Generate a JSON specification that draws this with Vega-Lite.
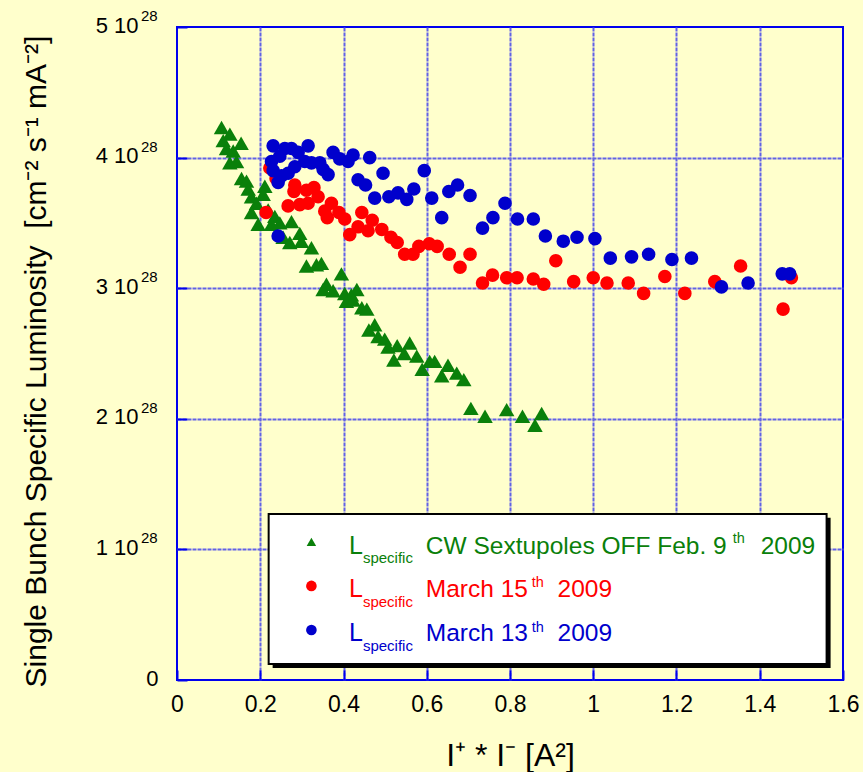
{
  "$schema": "https://vega.github.io/schema/vega-lite/v6.json",
  "width": 666,
  "height": 653,
  "autosize": {"type": "none"},
  "padding": {"left": 177, "top": 27, "right": 20, "bottom": 92},
  "background": "#ffffcc",
  "config": {
    "view": {"stroke": "#0000ee", "strokeWidth": 2, "fill": "#ffffcc"},
    "font": "Liberation Sans",
    "text": {"font": "Liberation Sans"},
    "axis": {
      "labelFont": "Liberation Sans",
      "titleFont": "Liberation Sans",
      "titleFontWeight": "normal",
      "labelColor": "#000000",
      "titleColor": "#000000",
      "domain": false,
      "tickColor": "#0000ee",
      "tickWidth": 2,
      "gridWidth": 2,
      "gridDash": [4, 1]
    }
  },
  "datasets": {
    "pts": [
      {"s":"Feb9","x":0.107,"L":4.23e28},{"s":"Feb9","x":0.127,"L":4.18e28},{"s":"Feb9","x":0.154,"L":4.11e28},{"s":"Feb9","x":0.111,"L":4.13e28},{"s":"Feb9","x":0.135,"L":4.05e28},{"s":"Feb9","x":0.119,"L":4.07e28},{"s":"Feb9","x":0.127,"L":3.96e28},{"s":"Feb9","x":0.143,"L":3.97e28},{"s":"Feb9","x":0.155,"L":3.84e28},{"s":"Feb9","x":0.167,"L":3.82e28},{"s":"Feb9","x":0.171,"L":3.76e28},{"s":"Feb9","x":0.179,"L":3.70e28},{"s":"Feb9","x":0.191,"L":3.65e28},{"s":"Feb9","x":0.211,"L":3.78e28},{"s":"Feb9","x":0.207,"L":3.72e28},{"s":"Feb9","x":0.179,"L":3.58e28},{"s":"Feb9","x":0.195,"L":3.49e28},{"s":"Feb9","x":0.219,"L":3.60e28},{"s":"Feb9","x":0.235,"L":3.55e28},{"s":"Feb9","x":0.227,"L":3.49e28},{"s":"Feb9","x":0.247,"L":3.50e28},{"s":"Feb9","x":0.275,"L":3.51e28},{"s":"Feb9","x":0.255,"L":3.39e28},{"s":"Feb9","x":0.271,"L":3.35e28},{"s":"Feb9","x":0.295,"L":3.42e28},{"s":"Feb9","x":0.299,"L":3.36e28},{"s":"Feb9","x":0.323,"L":3.31e28},{"s":"Feb9","x":0.311,"L":3.17e28},{"s":"Feb9","x":0.335,"L":3.18e28},{"s":"Feb9","x":0.347,"L":3.19e28},{"s":"Feb9","x":0.395,"L":3.11e28},{"s":"Feb9","x":0.359,"L":3.03e28},{"s":"Feb9","x":0.375,"L":2.98e28},{"s":"Feb9","x":0.351,"L":2.99e28},{"s":"Feb9","x":0.403,"L":2.96e28},{"s":"Feb9","x":0.419,"L":2.95e28},{"s":"Feb9","x":0.432,"L":2.99e28},{"s":"Feb9","x":0.407,"L":2.90e28},{"s":"Feb9","x":0.423,"L":2.91e28},{"s":"Feb9","x":0.444,"L":2.85e28},{"s":"Feb9","x":0.456,"L":2.84e28},{"s":"Feb9","x":0.475,"L":2.72e28},{"s":"Feb9","x":0.461,"L":2.68e28},{"s":"Feb9","x":0.483,"L":2.63e28},{"s":"Feb9","x":0.499,"L":2.61e28},{"s":"Feb9","x":0.507,"L":2.55e28},{"s":"Feb9","x":0.529,"L":2.56e28},{"s":"Feb9","x":0.559,"L":2.58e28},{"s":"Feb9","x":0.546,"L":2.50e28},{"s":"Feb9","x":0.521,"L":2.45e28},{"s":"Feb9","x":0.576,"L":2.48e28},{"s":"Feb9","x":0.607,"L":2.44e28},{"s":"Feb9","x":0.619,"L":2.44e28},{"s":"Feb9","x":0.589,"L":2.38e28},{"s":"Feb9","x":0.651,"L":2.41e28},{"s":"Feb9","x":0.636,"L":2.33e28},{"s":"Feb9","x":0.672,"L":2.35e28},{"s":"Feb9","x":0.689,"L":2.30e28},{"s":"Feb9","x":0.706,"L":2.08e28},{"s":"Feb9","x":0.740,"L":2.02e28},{"s":"Feb9","x":0.792,"L":2.07e28},{"s":"Feb9","x":0.830,"L":2.02e28},{"s":"Feb9","x":0.860,"L":1.95e28},{"s":"Feb9","x":0.876,"L":2.04e28},
      {"s":"Mar15","x":0.223,"L":3.92e28},{"s":"Mar15","x":0.238,"L":3.84e28},{"s":"Mar15","x":0.283,"L":3.79e28},{"s":"Mar15","x":0.281,"L":3.74e28},{"s":"Mar15","x":0.311,"L":3.75e28},{"s":"Mar15","x":0.329,"L":3.77e28},{"s":"Mar15","x":0.339,"L":3.70e28},{"s":"Mar15","x":0.267,"L":3.63e28},{"s":"Mar15","x":0.295,"L":3.64e28},{"s":"Mar15","x":0.315,"L":3.65e28},{"s":"Mar15","x":0.355,"L":3.59e28},{"s":"Mar15","x":0.371,"L":3.65e28},{"s":"Mar15","x":0.361,"L":3.54e28},{"s":"Mar15","x":0.389,"L":3.58e28},{"s":"Mar15","x":0.403,"L":3.53e28},{"s":"Mar15","x":0.444,"L":3.58e28},{"s":"Mar15","x":0.469,"L":3.52e28},{"s":"Mar15","x":0.415,"L":3.41e28},{"s":"Mar15","x":0.435,"L":3.47e28},{"s":"Mar15","x":0.459,"L":3.44e28},{"s":"Mar15","x":0.492,"L":3.45e28},{"s":"Mar15","x":0.514,"L":3.39e28},{"s":"Mar15","x":0.529,"L":3.35e28},{"s":"Mar15","x":0.214,"L":3.58e28},{"s":"Mar15","x":0.547,"L":3.26e28},{"s":"Mar15","x":0.567,"L":3.26e28},{"s":"Mar15","x":0.581,"L":3.32e28},{"s":"Mar15","x":0.606,"L":3.34e28},{"s":"Mar15","x":0.625,"L":3.32e28},{"s":"Mar15","x":0.654,"L":3.26e28},{"s":"Mar15","x":0.680,"L":3.16e28},{"s":"Mar15","x":0.704,"L":3.26e28},{"s":"Mar15","x":0.734,"L":3.04e28},{"s":"Mar15","x":0.758,"L":3.10e28},{"s":"Mar15","x":0.792,"L":3.08e28},{"s":"Mar15","x":0.817,"L":3.08e28},{"s":"Mar15","x":0.856,"L":3.07e28},{"s":"Mar15","x":0.881,"L":3.03e28},{"s":"Mar15","x":0.910,"L":3.21e28},{"s":"Mar15","x":0.953,"L":3.05e28},{"s":"Mar15","x":1.000,"L":3.08e28},{"s":"Mar15","x":1.033,"L":3.04e28},{"s":"Mar15","x":1.084,"L":3.04e28},{"s":"Mar15","x":1.121,"L":2.96e28},{"s":"Mar15","x":1.172,"L":3.09e28},{"s":"Mar15","x":1.220,"L":2.96e28},{"s":"Mar15","x":1.292,"L":3.05e28},{"s":"Mar15","x":1.354,"L":3.17e28},{"s":"Mar15","x":1.476,"L":3.08e28},{"s":"Mar15","x":1.456,"L":2.84e28},
      {"s":"Mar13","x":0.231,"L":4.09e28},{"s":"Mar13","x":0.259,"L":4.07e28},{"s":"Mar13","x":0.275,"L":4.07e28},{"s":"Mar13","x":0.315,"L":4.09e28},{"s":"Mar13","x":0.227,"L":3.97e28},{"s":"Mar13","x":0.247,"L":4.01e28},{"s":"Mar13","x":0.291,"L":4.04e28},{"s":"Mar13","x":0.231,"L":3.90e28},{"s":"Mar13","x":0.251,"L":3.86e28},{"s":"Mar13","x":0.243,"L":3.81e28},{"s":"Mar13","x":0.267,"L":3.88e28},{"s":"Mar13","x":0.283,"L":3.93e28},{"s":"Mar13","x":0.307,"L":3.97e28},{"s":"Mar13","x":0.323,"L":3.96e28},{"s":"Mar13","x":0.343,"L":3.96e28},{"s":"Mar13","x":0.351,"L":3.91e28},{"s":"Mar13","x":0.363,"L":3.87e28},{"s":"Mar13","x":0.375,"L":4.04e28},{"s":"Mar13","x":0.391,"L":3.99e28},{"s":"Mar13","x":0.411,"L":3.97e28},{"s":"Mar13","x":0.423,"L":4.02e28},{"s":"Mar13","x":0.463,"L":4.00e28},{"s":"Mar13","x":0.495,"L":3.88e28},{"s":"Mar13","x":0.435,"L":3.83e28},{"s":"Mar13","x":0.453,"L":3.79e28},{"s":"Mar13","x":0.475,"L":3.69e28},{"s":"Mar13","x":0.509,"L":3.70e28},{"s":"Mar13","x":0.531,"L":3.73e28},{"s":"Mar13","x":0.552,"L":3.68e28},{"s":"Mar13","x":0.569,"L":3.76e28},{"s":"Mar13","x":0.594,"L":3.90e28},{"s":"Mar13","x":0.612,"L":3.69e28},{"s":"Mar13","x":0.636,"L":3.54e28},{"s":"Mar13","x":0.653,"L":3.74e28},{"s":"Mar13","x":0.674,"L":3.79e28},{"s":"Mar13","x":0.704,"L":3.71e28},{"s":"Mar13","x":0.734,"L":3.46e28},{"s":"Mar13","x":0.759,"L":3.54e28},{"s":"Mar13","x":0.788,"L":3.65e28},{"s":"Mar13","x":0.818,"L":3.53e28},{"s":"Mar13","x":0.856,"L":3.53e28},{"s":"Mar13","x":0.885,"L":3.40e28},{"s":"Mar13","x":0.928,"L":3.36e28},{"s":"Mar13","x":0.961,"L":3.39e28},{"s":"Mar13","x":1.004,"L":3.38e28},{"s":"Mar13","x":1.041,"L":3.23e28},{"s":"Mar13","x":1.092,"L":3.24e28},{"s":"Mar13","x":1.133,"L":3.26e28},{"s":"Mar13","x":1.189,"L":3.22e28},{"s":"Mar13","x":1.236,"L":3.23e28},{"s":"Mar13","x":1.308,"L":3.01e28},{"s":"Mar13","x":1.372,"L":3.04e28},{"s":"Mar13","x":1.454,"L":3.11e28},{"s":"Mar13","x":1.472,"L":3.11e28},{"s":"Mar13","x":0.243,"L":3.40e28}
    ],
    "yticks": [{"v":1e28},{"v":2e28},{"v":3e28},{"v":4e28},{"v":5e28}],
    "one": [{}]
  },
  "layer": [
    {
      "data": {"name": "pts"},
      "transform": [{"filter": "datum.s == 'Feb9'"}],
      "mark": {"type": "point", "shape": "triangle-up", "filled": true, "opacity": 1, "size": 240, "color": "#0a800a"},
      "encoding": {
        "x": {
          "field": "x", "type": "quantitative",
          "scale": {"domain": [0, 1.6], "nice": false, "zero": false},
          "axis": {
            "title": "I⁺ * I⁻ [A²]",
            "titleFontSize": 32,
            "titlePadding": 24,
            "values": [0, 0.2, 0.4, 0.6, 0.8, 1, 1.2, 1.4, 1.6],
            "format": "~g",
            "labelFontSize": 23,
            "labelPadding": 23,
            "tickSize": -10,
            "labelFlush": false,
            "grid": true,
            "gridColor": {"condition": {"test": "datum.value <= 0 || datum.value >= 1.6", "value": "transparent"}, "value": "#6262e6"}
          }
        },
        "y": {
          "field": "L", "type": "quantitative",
          "scale": {"domain": [0, 5e28], "nice": false},
          "axis": {
            "title": "Single Bunch Specific Luminosity\u00a0\u00a0[cm⁻² s⁻¹ mA⁻²]",
            "titleFontSize": 30,
            "titlePadding": 44,
            "titleY": 334,
            "values": [0, 1e28, 2e28, 3e28, 4e28, 5e28],
            "labelExpr": "datum.value == 0 ? '0' : round(datum.value / 1e28) + ' 10'",
            "labelFontSize": 22,
            "labelOffset": -2,
            "labelPadding": {"condition": {"test": "datum.value == 0", "value": 29}, "value": 49},
            "tickSize": -10,
            "labelFlush": false,
            "grid": true,
            "gridColor": {"condition": {"test": "datum.value <= 0 || datum.value >= 5e28", "value": "transparent"}, "value": "#6262e6"}
          }
        }
      }
    },
    {
      "data": {"name": "pts"},
      "transform": [{"filter": "datum.s == 'Mar15'"}],
      "mark": {"type": "point", "shape": "circle", "filled": true, "opacity": 1, "size": 185, "color": "#ff0000"},
      "encoding": {"x": {"field": "x", "type": "quantitative"}, "y": {"field": "L", "type": "quantitative"}}
    },
    {
      "data": {"name": "pts"},
      "transform": [{"filter": "datum.s == 'Mar13'"}],
      "mark": {"type": "point", "shape": "circle", "filled": true, "opacity": 1, "size": 185, "color": "#0000cc"},
      "encoding": {"x": {"field": "x", "type": "quantitative"}, "y": {"field": "L", "type": "quantitative"}}
    },
    {
      "data": {"name": "yticks"},
      "mark": {"type": "text", "text": "28", "align": "left", "baseline": "alphabetic", "dx": -36, "dy": -6, "fontSize": 15, "color": "#000000"},
      "encoding": {"x": {"datum": 0, "type": "quantitative"}, "y": {"field": "v", "type": "quantitative"}}
    },
    {
      "data": {"name": "one"},
      "mark": {"type": "rect", "fill": "#000000"},
      "encoding": {"x": {"datum": 0.2298}, "x2": {"datum": 1.5702}, "y": {"datum": 1.2414e28}, "y2": {"datum": 0.092e28}}
    },
    {
      "data": {"name": "one"},
      "mark": {"type": "rect", "fill": "#ffffff", "stroke": "#000000", "strokeWidth": 2},
      "encoding": {"x": {"datum": 0.2202}, "x2": {"datum": 1.5606}, "y": {"datum": 1.272e28}, "y2": {"datum": 0.1226e28}}
    },
    {"data": {"name": "one"}, "mark": {"type": "point", "shape": "triangle-up", "filled": true, "size": 90, "color": "#0a800a", "opacity": 1}, "encoding": {"x": {"datum": 0.3229}, "y": {"datum": 1.0575e28}}},
    {"data": {"name": "one"}, "mark": {"type": "point", "shape": "circle", "filled": true, "size": 113, "color": "#ff0000", "opacity": 1}, "encoding": {"x": {"datum": 0.3229}, "y": {"datum": 0.7203e28}}},
    {"data": {"name": "one"}, "mark": {"type": "point", "shape": "circle", "filled": true, "size": 113, "color": "#0000cc", "opacity": 1}, "encoding": {"x": {"datum": 0.3229}, "y": {"datum": 0.3831e28}}},

    {"data": {"name": "one"}, "mark": {"type": "text", "text": "L", "align": "left", "baseline": "alphabetic", "fontSize": 25, "color": "#0a800a"}, "encoding": {"x": {"datum": 0.4130}, "y": {"datum": 0.9655e28}}},
    {"data": {"name": "one"}, "mark": {"type": "text", "text": "specific", "align": "left", "baseline": "alphabetic", "fontSize": 15, "color": "#0a800a"}, "encoding": {"x": {"datum": 0.4466}, "y": {"datum": 0.8966e28}}},
    {"data": {"name": "one"}, "mark": {"type": "text", "text": "CW Sextupoles OFF Feb. 9", "align": "left", "baseline": "alphabetic", "fontSize": 24.5, "color": "#0a800a"}, "encoding": {"x": {"datum": 0.5978}, "y": {"datum": 0.9655e28}}},
    {"data": {"name": "one"}, "mark": {"type": "text", "text": "th", "align": "left", "baseline": "alphabetic", "fontSize": 14.5, "color": "#0a800a"}, "encoding": {"x": {"datum": 1.3349}, "y": {"datum": 1.0475e28}}},
    {"data": {"name": "one"}, "mark": {"type": "text", "text": "2009", "align": "left", "baseline": "alphabetic", "fontSize": 24.5, "color": "#0a800a"}, "encoding": {"x": {"datum": 1.4022}, "y": {"datum": 0.9655e28}}},

    {"data": {"name": "one"}, "mark": {"type": "text", "text": "L", "align": "left", "baseline": "alphabetic", "fontSize": 25, "color": "#ff0000"}, "encoding": {"x": {"datum": 0.4130}, "y": {"datum": 0.6360e28}}},
    {"data": {"name": "one"}, "mark": {"type": "text", "text": "specific", "align": "left", "baseline": "alphabetic", "fontSize": 15, "color": "#ff0000"}, "encoding": {"x": {"datum": 0.4466}, "y": {"datum": 0.5594e28}}},
    {"data": {"name": "one"}, "mark": {"type": "text", "text": "March 15", "align": "left", "baseline": "alphabetic", "fontSize": 24.5, "color": "#ff0000"}, "encoding": {"x": {"datum": 0.5978}, "y": {"datum": 0.6360e28}}},
    {"data": {"name": "one"}, "mark": {"type": "text", "text": "th", "align": "left", "baseline": "alphabetic", "fontSize": 14.5, "color": "#ff0000"}, "encoding": {"x": {"datum": 0.8523}, "y": {"datum": 0.7103e28}}},
    {"data": {"name": "one"}, "mark": {"type": "text", "text": "2009", "align": "left", "baseline": "alphabetic", "fontSize": 24.5, "color": "#ff0000"}, "encoding": {"x": {"datum": 0.9143}, "y": {"datum": 0.6360e28}}},

    {"data": {"name": "one"}, "mark": {"type": "text", "text": "L", "align": "left", "baseline": "alphabetic", "fontSize": 25, "color": "#0000cc"}, "encoding": {"x": {"datum": 0.4130}, "y": {"datum": 0.2989e28}}},
    {"data": {"name": "one"}, "mark": {"type": "text", "text": "specific", "align": "left", "baseline": "alphabetic", "fontSize": 15, "color": "#0000cc"}, "encoding": {"x": {"datum": 0.4466}, "y": {"datum": 0.2222e28}}},
    {"data": {"name": "one"}, "mark": {"type": "text", "text": "March 13", "align": "left", "baseline": "alphabetic", "fontSize": 24.5, "color": "#0000cc"}, "encoding": {"x": {"datum": 0.5978}, "y": {"datum": 0.2989e28}}},
    {"data": {"name": "one"}, "mark": {"type": "text", "text": "th", "align": "left", "baseline": "alphabetic", "fontSize": 14.5, "color": "#0000cc"}, "encoding": {"x": {"datum": 0.8523}, "y": {"datum": 0.3701e28}}},
    {"data": {"name": "one"}, "mark": {"type": "text", "text": "2009", "align": "left", "baseline": "alphabetic", "fontSize": 24.5, "color": "#0000cc"}, "encoding": {"x": {"datum": 0.9143}, "y": {"datum": 0.2989e28}}}
  ]
}
